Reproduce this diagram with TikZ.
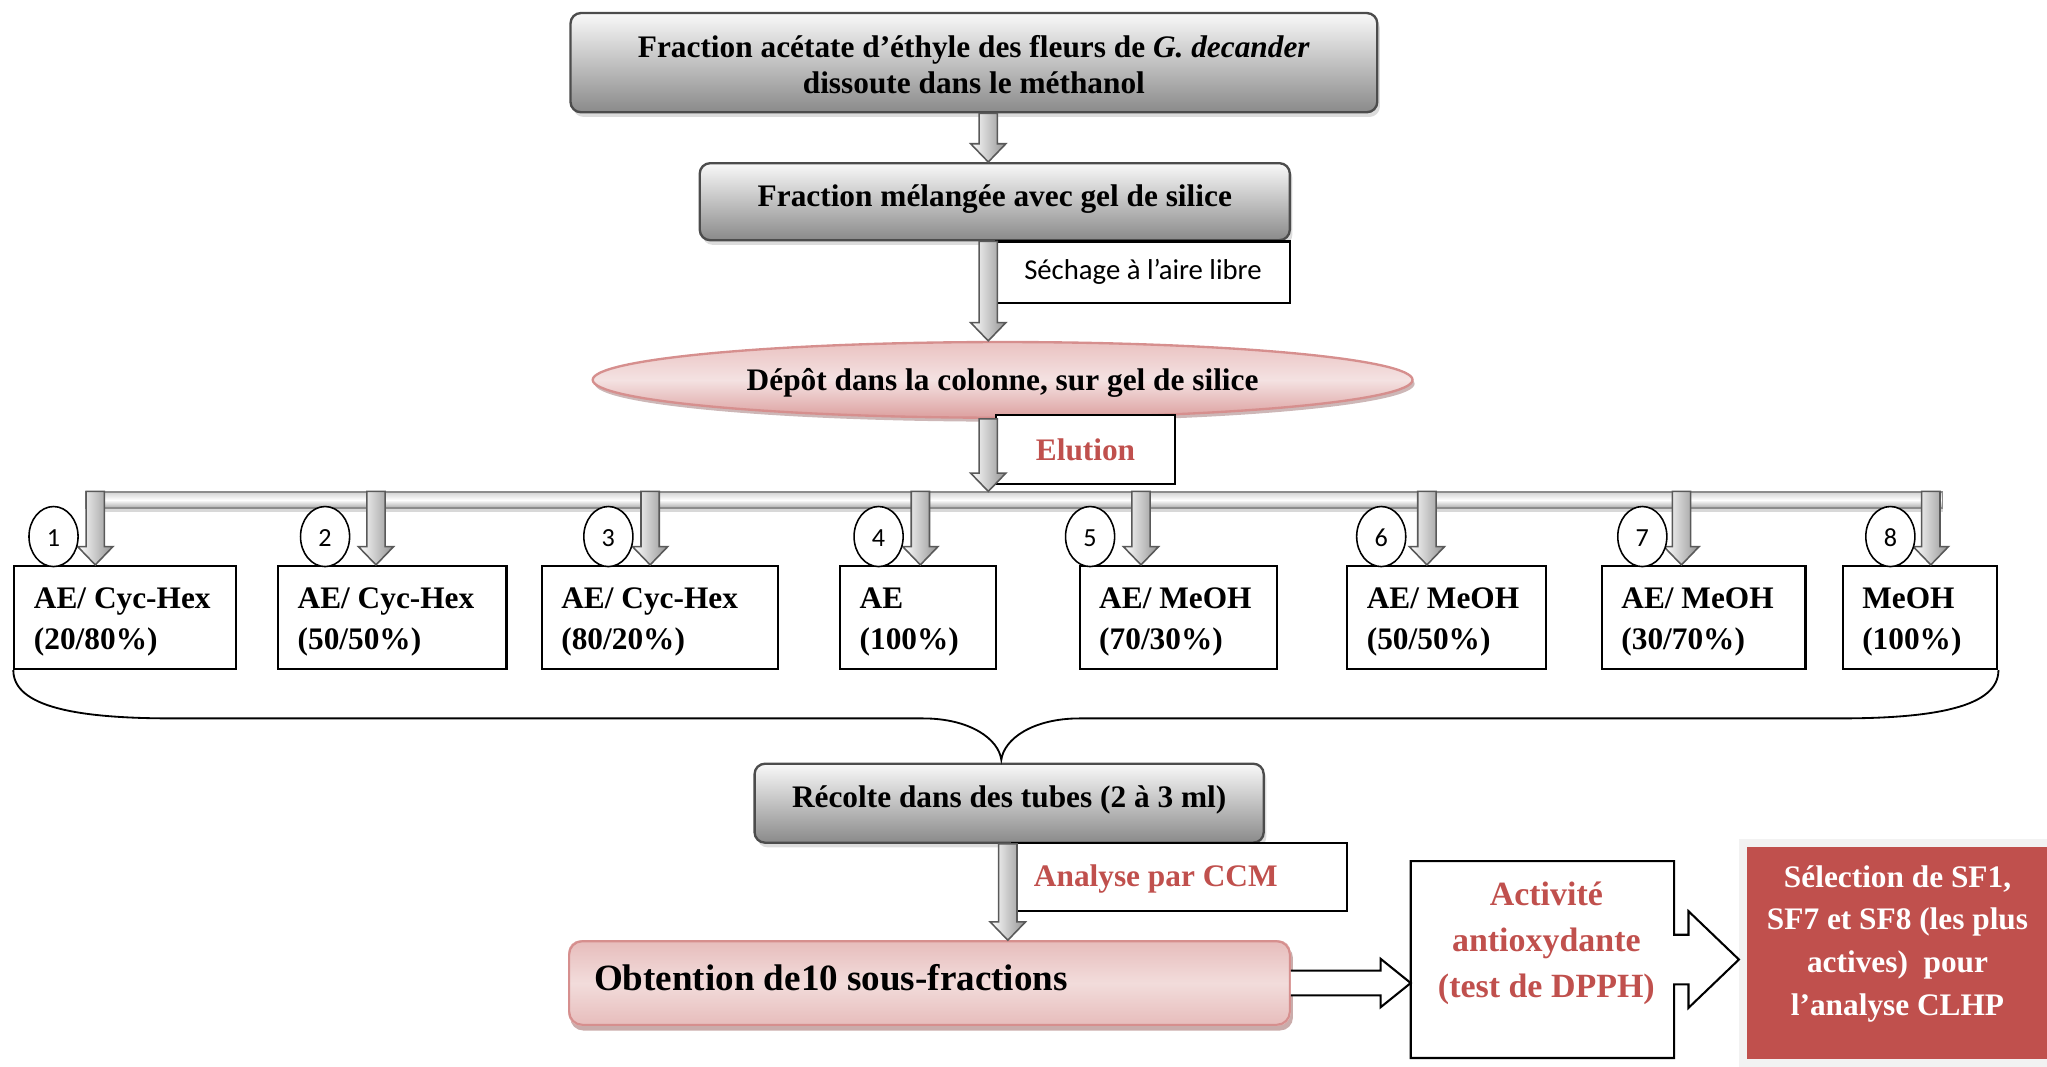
\documentclass[tikz,border=0pt]{standalone}
\usepackage{fontspec}
\setmainfont{Liberation Serif}
\newfontfamily\calfont{Carlito}
\usetikzlibrary{shapes.geometric,shadows,calc}
\pgfdeclarelayer{bg}
\pgfsetlayers{bg,main}
\definecolor{redA}{HTML}{C0504D}
\definecolor{grayB}{HTML}{8A8A8A}
\definecolor{pinkD}{HTML}{D68F8E}
\definecolor{pinkL}{HTML}{F4E2E2}
\definecolor{pinkO}{HTML}{F2DCDB}
\definecolor{pinkM}{HTML}{EAC2C1}
\definecolor{lgray}{HTML}{F2F2F2}
\colorlet{pinkX}{pinkD!55!pinkO}
\pgfdeclareverticalshading{obtsh}{100bp}{color(0bp)=(pinkD); color(25bp)=(pinkD); color(39bp)=(pinkX); color(50bp)=(pinkO); color(61bp)=(pinkX); color(75bp)=(pinkD); color(100bp)=(pinkD)}
\newcommand{\blockdown}[3]{\draw[blockarr] let \p1=(#1), \p2=(#2), \p3=(#3) in
  (\x1-3.5pt,\y2) -- (\x1+3.5pt,\y2) -- (\x1+3.5pt,\y3+7pt) -- (\x1+6.75pt,\y3+7pt) -- (\x1,\y3)
  -- (\x1-6.75pt,\y3+7pt) -- (\x1-3.5pt,\y3+7pt) -- cycle;}
\begin{document}
\begin{tikzpicture}[x=0.5pt,y=-0.5pt,
  graybox/.style={rectangle, rounded corners=4pt, draw=gray!60!black, line width=0.9pt,
    top color=white!95!gray, bottom color=grayB,
    drop shadow={shadow xshift=1pt, shadow yshift=-1.8pt, fill=gray!55},
    inner sep=0pt, align=flush center, font=\bfseries\fontsize{12}{14}\selectfont},
  labbox/.style={rectangle, draw=black, line width=0.8pt, fill=white, inner sep=0pt},
  fracbox/.style={rectangle, draw=black, line width=0.8pt, fill=white, inner xsep=7.5pt,
    inner ysep=0pt, minimum height=39.5pt, align=flush left, font=\bfseries\fontsize{12}{16}\selectfont},
  numc/.style={ellipse, draw=black, line width=0.6pt, fill=white, minimum width=18.8pt,
    minimum height=23pt, inner sep=0pt, font=\calfont\fontsize{10}{11}\selectfont},
  blockarr/.style={draw=gray!70!black, line width=0.6pt, left color=white, right color=gray!85},
  hollowarr/.style={draw=black, line width=0.8pt, fill=white},
  outline/.style={draw=black, line width=0.8pt},
  brace/.style={draw=black, line width=0.7pt},
]
\useasboundingbox (0,0) rectangle (1568,817);

% top chain
\node[graybox, minimum width=309pt, minimum height=38pt] (top) at (746,48)
  {\rule{0pt}{10pt}Fraction acétate d’éthyle des fleurs de \textit{G. decander}\\dissoute dans le méthanol};
\node[graybox, minimum width=226pt, minimum height=29.5pt] (mix) at (762,154.5)
  {\rule[-5pt]{0pt}{5pt}Fraction mélangée avec gel de silice};
\node[labbox, minimum width=112.5pt, minimum height=23.5pt, font=\calfont\fontsize{11}{13}\selectfont]
  (dry) at (875.5,208.5) {Séchage à l’aire libre};
\node[ellipse, minimum width=314pt, minimum height=29pt, inner sep=0pt, draw=pinkD, line width=0.9pt,
  top color=pinkM, bottom color=pinkD!85, middle color=pinkL,
  drop shadow={shadow xshift=0.8pt, shadow yshift=-1.5pt, fill=pinkD!50!gray, opacity=0.6},
  font=\bfseries\fontsize{12}{14}\selectfont] (col) at (768,291)
  {\rule{0pt}{11pt}Dépôt dans la colonne, sur gel de silice};
\node[labbox, minimum width=68.5pt, minimum height=26.5pt, text=redA,
  font=\bfseries\fontsize{12}{14}\selectfont] (elu) at (831.5,344.5) {Elution};

\coordinate (ax) at (757,0);
\blockdown{ax}{top.south}{mix.north}
\blockdown{ax}{mix.south}{col.north}

% distribution bar
\node[rectangle, minimum width=711pt, minimum height=6pt, inner sep=0pt, draw=gray!90, line width=0.6pt,
  top color=gray!35, bottom color=gray!65, middle color=white,
  drop shadow={shadow xshift=0pt, shadow yshift=-1.6pt, fill=gray!60}] (bar) at (777,383) {};
\blockdown{ax}{col.south}{bar.north}

% fraction boxes
\node[fracbox, text width=70pt]   (b1) at (96,473)     {\rule{0pt}{11.3pt}\mbox{AE/ Cyc-Hex}\\(20/80\%)};
\node[fracbox, text width=72.5pt] (b2) at (300.5,473)  {\rule{0pt}{11.3pt}\mbox{AE/ Cyc-Hex}\\(50/50\%)};
\node[fracbox, text width=75.5pt] (b3) at (505.5,473)  {\rule{0pt}{11.3pt}\mbox{AE/ Cyc-Hex}\\(80/20\%)};
\node[fracbox, text width=44.75pt] (b4) at (703.25,473) {\rule{0pt}{11.3pt}AE\\(100\%)};
\node[fracbox, text width=60.5pt] (b5) at (902.5,473)  {\rule{0pt}{11.3pt}\mbox{AE/ MeOH}\\(70/30\%)};
\node[fracbox, text width=61pt]   (b6) at (1108,473)   {\rule{0pt}{11.3pt}\mbox{AE/ MeOH}\\(50/50\%)};
\node[fracbox, text width=63pt]   (b7) at (1305,473)   {\rule{0pt}{11.3pt}\mbox{AE/ MeOH}\\(30/70\%)};
\node[fracbox, text width=44.25pt] (b8) at (1470.75,473) {\rule{0pt}{11.3pt}MeOH\\(100\%)};

\foreach \i/\xx in {1/73,2/288,3/498,4/705,5/874,6/1093,7/1288,8/1479}{
  \coordinate (d\i) at (\xx,0);
  \blockdown{d\i}{bar.north}{b\i.north}
}
\foreach \i/\xx in {1/41,2/249,3/466,4/673,5/835,6/1058,7/1258,8/1448}{
  \node[numc] (n\i) at (\xx,411) {\rule{0pt}{8pt}\i};
}

% collecting
\node[graybox, minimum width=195pt, minimum height=30.25pt] (rec) at (773,615.25)
  {\rule[-5pt]{0pt}{5pt}Récolte dans des tubes (2 à 3 ml)};
\draw[brace] let \p1=(b1.south west), \p2=(b8.south east), \p3=($(rec.north)+(-6,-2)$) in
  (\p1) .. controls (\x1,\y1-14pt) and (\x1+24pt,\y1-18.5pt) .. (\x1+61pt,\y1-18.5pt)
  -- (\x3-30pt,\y1-18.5pt) .. controls (\x3-12pt,\y1-18.5pt) and (\x3-1pt,\y3+8pt) .. (\p3)
  .. controls (\x3+1pt,\y3+8pt) and (\x3+12pt,\y1-18.5pt) .. (\x3+30pt,\y1-18.5pt)
  -- (\x2-61pt,\y2-18.5pt) .. controls (\x2-24pt,\y2-18.5pt) and (\x2,\y2-14pt) .. (\p2);

\node[labbox, text width=111.5pt, inner xsep=8.5pt, minimum height=26pt, align=flush left, text=redA,
  font=\bfseries\fontsize{12}{14}\selectfont] (ccm) at (903.5,672) {\rule{0pt}{10pt}Analyse par CCM};

\node[rectangle, rounded corners=5pt, draw=pinkD, line width=0.8pt,
  minimum width=276pt, minimum height=32pt, text width=257pt, inner xsep=9.5pt, inner ysep=0pt,
  align=flush left, font=\bfseries\fontsize{14.2}{16}\selectfont] (obt) at (712,753)
  {Obtention de10 sous-fractions\rule[-4pt]{0pt}{4pt}};
\begin{pgfonlayer}{bg}
  \fill[pinkD!60!gray, opacity=0.7, rounded corners=5pt]
    ($(obt.south west)+(0.8pt,-1.8pt)$) rectangle ($(obt.north east)+(0.8pt,-1.8pt)$);
  \begin{scope}
    \clip[rounded corners=5pt] (obt.south west) rectangle (obt.north east);
    \fill[pinkD] (obt.south west) rectangle (obt.north east);
    \begin{scope}[shift={(obt.center)}, rotate=-6.6]
      \shade[shading=obtsh] (-145pt,-33pt) rectangle (145pt,33pt);
    \end{scope}
  \end{scope}
\end{pgfonlayer}
\coordinate (ax2) at (772,0);
\blockdown{ax2}{rec.south}{obt.north}

% right part
\node[rectangle, fill=redA, draw=lgray, line width=3pt, minimum width=118.5pt, minimum height=84pt,
  inner sep=0pt, text=white, align=flush center, font=\bfseries\fontsize{12}{16.4}\selectfont]
  (sel) at (1453.5,730) {Sélection de SF1,\\SF7 et SF8 (les plus\\actives)~ pour\\l’analyse CLHP\rule[-9.6pt]{0pt}{9.6pt}};

\node[rectangle, minimum width=100.5pt, minimum height=75pt, inner sep=0pt, align=flush center, text=redA,
  font=\bfseries\fontsize{13}{17.7}\selectfont] (act) at (1181.5,735)
  {\hspace*{3pt}Activité\\\hspace*{3pt}antioxydante\\\hspace*{3pt}(test de DPPH)\rule[-15pt]{0pt}{15pt}};
\draw[outline] let \p1=(act.north west), \p2=(act.south east), \p3=(act.east), \p4=(sel.west) in
  (\p1) -- (\x2,\y1) -- (\x2,\y3+9.5pt) -- (\x2+5.5pt,\y3+9.5pt) -- (\x2+5.5pt,\y3+18.5pt)
  -- (\x4,\y3) -- (\x2+5.5pt,\y3-18.5pt) -- (\x2+5.5pt,\y3-9.5pt) -- (\x2,\y3-9.5pt)
  -- (\x2,\y2) -- (\x1,\y2) -- cycle;

\draw[hollowarr] let \p1=(obt.east), \p2=(act.west) in
  (\x1,\y1+4.75pt) -- (\x2-11.5pt,\y1+4.75pt) -- (\x2-11.5pt,\y1+9.25pt) -- (\x2,\y1)
  -- (\x2-11.5pt,\y1-9.25pt) -- (\x2-11.5pt,\y1-4.75pt) -- (\x1,\y1-4.75pt);
\end{tikzpicture}
\end{document}
